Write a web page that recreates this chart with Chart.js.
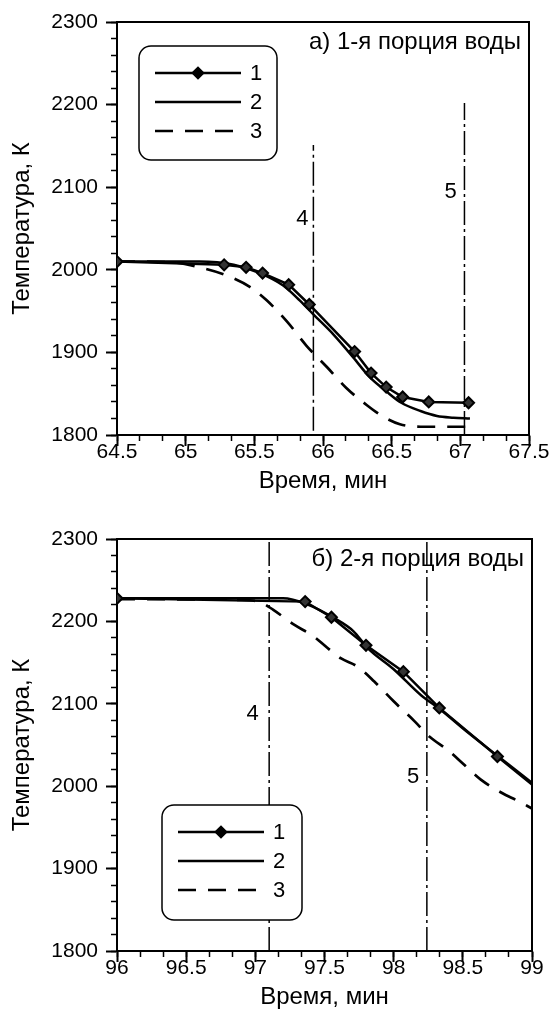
<!DOCTYPE html>
<html>
<head>
<meta charset="utf-8">
<script src="https://cdn.jsdelivr.net/npm/chart.js@4.4.1/dist/chart.umd.min.js"></script>
<style>
  html, body { margin: 0; padding: 0; background: #fff; }
  body { width: 552px; height: 1023px; position: relative; overflow: hidden; }
  .panel { position: absolute; left: 0; width: 552px; }
  #panelA { top: 0; height: 496px; }
  #panelB { top: 500px; height: 512px; }
</style>
</head>
<body>
<div class="panel" id="panelA"><canvas id="chartA"></canvas></div>
<div class="panel" id="panelB"><canvas id="chartB"></canvas></div>
<script>
// ---- a) 1-я порция воды ----
const time1A = [64.5, 65.28, 65.44, 65.56, 65.75, 65.90, 66.23, 66.35, 66.46, 66.58, 66.77, 67.06];
const temp1A = [2010, 2006, 2003, 1996, 1982, 1958, 1901, 1875, 1858, 1846, 1840, 1839];
const time2A = [64.5, 65.10, 65.35, 65.54, 65.71, 65.83, 65.93, 66.08, 66.22, 66.34, 66.46, 66.57, 66.71, 66.83, 66.95, 67.07];
const temp2A = [2010, 2010, 2006, 1996, 1981, 1963, 1946, 1921, 1894, 1870, 1853, 1839, 1829, 1823, 1821, 1820];
const time3A = [64.5, 64.91, 65.10, 65.30, 65.47, 65.59, 65.74, 65.88, 66.03, 66.17, 66.32, 66.44, 66.56, 66.71, 67.07];
const temp3A = [2010, 2009, 2003, 1993, 1979, 1963, 1937, 1908, 1882, 1857, 1836, 1822, 1813, 1810, 1810];
const line4A = { time: 65.93, from: 1805, to: 2151 };
const line5A = { time: 67.03, from: 1800, to: 2202 };
const xTicksA = [64.5, 65, 65.5, 66, 66.5, 67, 67.5];

// ---- б) 2-я порция воды ----
const time1B = [96.0, 97.36, 97.55, 97.80, 98.07, 98.33, 98.75, 99.0];
const temp1B = [2228, 2224, 2205, 2171, 2139, 2095, 2036, 2002];
const time2B = [96.0, 97.2, 97.37, 97.57, 97.71, 97.81, 98.0, 98.2, 98.33, 98.53, 98.75, 99.0];
const temp2B = [2228, 2228, 2221, 2204, 2188, 2168, 2142, 2110, 2094, 2066, 2037, 2004];
const time3B = [96.0, 96.89, 97.04, 97.13, 97.28, 97.42, 97.52, 97.62, 97.74, 97.86, 98.0, 98.15, 98.26, 98.39, 98.51, 98.63, 98.78, 98.90, 99.0];
const temp3B = [2227, 2226, 2223, 2214, 2196, 2182, 2168, 2155, 2145, 2127, 2103, 2079, 2060, 2044, 2026, 2008, 1992, 1982, 1973];
const line4B = { time: 97.10, from: 1800, to: 2300 };
const line5B = { time: 98.24, from: 1800, to: 2300 };
const xTicksB = [96, 96.5, 97, 97.5, 98, 98.5, 99];

const yTicks = [1800, 1900, 2000, 2100, 2200, 2300];
const seriesNames = ['1', '2', '3'];

const FONT = "'Liberation Sans', Arial, sans-serif";

function points(xs, ys) {
    return xs.map((x, i) => ({ x: x, y: ys[i] }));
}

function minorSteps(min, max, parts) {
    const out = [];
    for (let i = 0; i <= parts; i++) out.push({ value: min + (max - min) * i / parts });
    return out;
}

// legend box drawn inside the plot
const boxLegend = {
    id: 'boxLegend',
    afterDatasetsDraw(chart, args, opts) {
        const ctx = chart.ctx;
        const { x, y, w, h } = opts;
        ctx.save();
        ctx.beginPath();
        ctx.roundRect(x, y, w, h, 12);
        ctx.fillStyle = '#fff';
        ctx.fill();
        ctx.lineWidth = 1.5;
        ctx.strokeStyle = '#000';
        ctx.stroke();
        for (let i = 0; i < 3; i++) {
            const ds = chart.data.datasets[i];
            const ry = y + 27 + i * 29;
            ctx.beginPath();
            ctx.setLineDash(ds.borderDash || []);
            ctx.lineWidth = ds.borderWidth;
            ctx.moveTo(x + 16, ry);
            ctx.lineTo(x + 102, ry);
            ctx.stroke();
            ctx.setLineDash([]);
            if (i === 0) {
                Chart.helpers.drawPoint(ctx, {
                    pointStyle: 'rectRot', radius: 5, borderWidth: 2, rotation: 0
                }, x + 59, ry);
                ctx.fillStyle = '#000';
                ctx.fill();
            }
            ctx.fillStyle = '#000';
            ctx.font = '22px ' + FONT;
            ctx.textBaseline = 'middle';
            ctx.textAlign = 'left';
            ctx.fillText(seriesNames[i], x + 111, ry + 1);
        }
        ctx.restore();
    }
};

// caption in the corner and labels "4", "5" next to the vertical lines
const notes = {
    id: 'notes',
    afterDatasetsDraw(chart, args, opts) {
        const ctx = chart.ctx;
        const area = chart.chartArea;
        const xs = chart.scales.x, ys = chart.scales.y;
        ctx.save();
        ctx.fillStyle = '#000';
        ctx.font = '24px ' + FONT;
        ctx.textAlign = 'right';
        ctx.textBaseline = 'top';
        ctx.fillText(opts.caption, area.right - 8, area.top + 8);
        ctx.font = '22px ' + FONT;
        ctx.textAlign = 'center';
        ctx.textBaseline = 'middle';
        opts.marks.forEach(m => {
            ctx.fillText(m.text, xs.getPixelForValue(m.x), ys.getPixelForValue(m.y));
        });
        ctx.restore();
    }
};

function makeChart(id, cfg) {
    const black = '#000';
    const xMin = cfg.xTicks[0], xMax = cfg.xTicks[cfg.xTicks.length - 1];
    const frameAxis = (pos, isX) => ({
        type: 'linear', position: pos,
        min: isX ? xMin : 1800, max: isX ? xMax : 2300,
        ticks: { display: false },
        grid: { drawOnChartArea: false, drawTicks: false },
        border: { color: black, width: 2 },
        afterFit: a => { if (isX) a.height = 0; else a.width = 0; }
    });
    const minorAxis = (pos, isX) => ({
        type: 'linear', position: pos, weight: 0,
        min: isX ? xMin : 1800, max: isX ? xMax : 2300,
        ticks: { display: false },
        grid: { drawOnChartArea: false, tickLength: 6, tickWidth: 1.5, tickColor: black },
        border: { display: false },
        afterBuildTicks: a => { a.ticks = isX ? minorSteps(xMin, xMax, 18) : minorSteps(1800, 2300, 25); },
        afterFit: a => { if (isX) a.height = 0; else a.width = 0; }
    });

    return new Chart(document.getElementById(id), {
        type: 'line',
        data: {
            datasets: [
                {
                    data: points(cfg.t1, cfg.v1), borderColor: black, borderWidth: 2.5,
                    pointStyle: 'rectRot',
                    pointRadius: c => (cfg.lastBare && c.dataIndex === cfg.t1.length - 1) ? 0 : 5.5,
                    pointBackgroundColor: '#333', pointBorderColor: black, pointBorderWidth: 2,
                    tension: 0
                },
                {
                    data: points(cfg.t2, cfg.v2), borderColor: black, borderWidth: 2.5,
                    pointRadius: 0, cubicInterpolationMode: 'monotone'
                },
                {
                    data: points(cfg.t3, cfg.v3), borderColor: black, borderWidth: 2.7,
                    borderDash: [18, 12], pointRadius: 0, cubicInterpolationMode: 'monotone'
                },
                {
                    data: [{ x: cfg.l4.time, y: cfg.l4.from }, { x: cfg.l4.time, y: cfg.l4.to }],
                    borderColor: black, borderWidth: 1.5, borderDash: [24, 4, 3, 4], pointRadius: 0
                },
                {
                    data: [{ x: cfg.l5.time, y: cfg.l5.from }, { x: cfg.l5.time, y: cfg.l5.to }],
                    borderColor: black, borderWidth: 1.5, borderDash: [24, 4, 3, 4], pointRadius: 0
                }
            ]
        },
        options: {
            responsive: true,
            maintainAspectRatio: false,
            animation: false,
            layout: { padding: { top: cfg.padTop, right: cfg.padRight, left: 0, bottom: 0 } },
            plugins: {
                legend: { display: false },
                tooltip: { enabled: false },
                boxLegend: cfg.legend,
                notes: { caption: cfg.caption, marks: cfg.marks }
            },
            scales: {
                x: {
                    type: 'linear', position: 'bottom', weight: 1,
                    min: xMin, max: xMax,
                    afterBuildTicks: a => { a.ticks = cfg.xTicks.map(v => ({ value: v })); },
                    ticks: { color: black, font: { family: FONT, size: 21 }, padding: -6,
                             maxRotation: 0, autoSkip: false, callback: v => String(v) },
                    grid: { drawOnChartArea: false, tickLength: 11, tickWidth: 2, tickColor: black },
                    border: { color: black, width: 2 },
                    title: { display: true, text: 'Время, мин', color: black,
                             font: { family: FONT, size: 24 }, padding: 0 },
                    afterFit: a => { a.height = 61; }
                },
                xMinor: minorAxis('bottom', true),
                y: {
                    type: 'linear', position: 'left', weight: 1,
                    min: 1800, max: 2300,
                    afterBuildTicks: a => { a.ticks = yTicks.map(v => ({ value: v })); },
                    ticks: { color: black, font: { family: FONT, size: 21 }, padding: 8,
                             callback: v => String(v) },
                    grid: { drawOnChartArea: false, tickLength: 11, tickWidth: 2, tickColor: black },
                    border: { color: black, width: 2 },
                    title: { display: true, text: 'Температура, К', color: black,
                             font: { family: FONT, size: 24 }, padding: { top: 8, bottom: 0 } },
                    afterFit: a => { a.width = 117; }
                },
                yMinor: minorAxis('left', false),
                xTop: frameAxis('top', true),
                yRight: frameAxis('right', false)
            }
        },
        plugins: [boxLegend, notes]
    });
}

makeChart('chartA', {
    t1: time1A, v1: temp1A, t2: time2A, v2: temp2A, t3: time3A, v3: temp3A,
    l4: line4A, l5: line5A, xTicks: xTicksA, lastBare: false,
    padTop: 22, padRight: 23,
    caption: 'а) 1-я порция воды',
    marks: [{ text: '4', x: 65.85, y: 2061 }, { text: '5', x: 66.93, y: 2094 }],
    legend: { x: 139, y: 46, w: 138, h: 114 }
});

makeChart('chartB', {
    t1: time1B, v1: temp1B, t2: time2B, v2: temp2B, t3: time3B, v3: temp3B,
    l4: line4B, l5: line5B, xTicks: xTicksB, lastBare: true,
    padTop: 39, padRight: 20,
    caption: 'б) 2-я порция воды',
    marks: [{ text: '4', x: 96.98, y: 2088 }, { text: '5', x: 98.14, y: 2011 }],
    legend: { x: 162, y: 305, w: 140, h: 115 }
});
</script>
</body>
</html>
